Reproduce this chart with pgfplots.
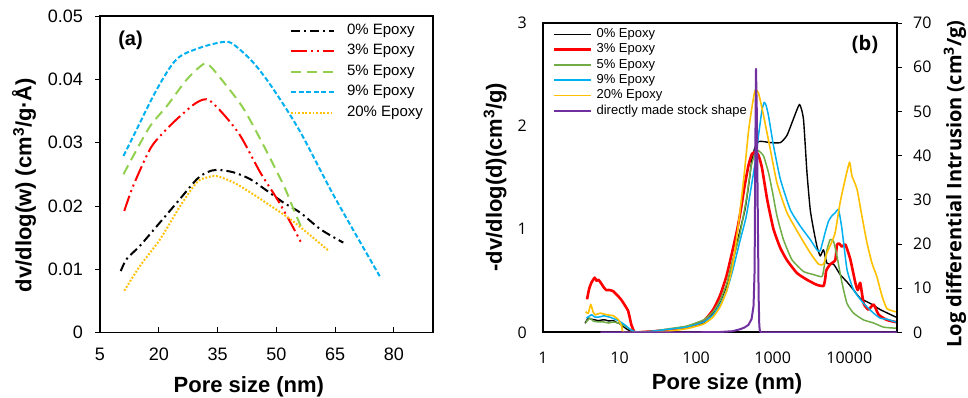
\documentclass[border=0pt]{standalone}
\usepackage{pgfplots}
\pgfplotsset{compat=1.18}
\usepackage{fontspec}
\setmainfont{Liberation Sans}
\newfontfamily\osans{Open Sans}
\definecolor{cRed}{RGB}{255,0,0}
\definecolor{cGreenA}{RGB}{146,208,80}
\definecolor{cGreenB}{RGB}{112,173,71}
\definecolor{cBlue}{RGB}{0,176,240}
\definecolor{cYellow}{RGB}{255,192,0}
\definecolor{cPurple}{RGB}{112,48,160}
\begin{document}
\begin{tikzpicture}
\useasboundingbox (0,0) rectangle (968bp,398bp);
% ---------------- Panel (a) ----------------
\begin{axis}[
  at={(100bp,65.5bp)}, anchor=south west, scale only axis,
  width=333bp, height=316.5bp,
  xmin=5, xmax=90, ymin=0, ymax=0.05,
  scaled y ticks=false, scaled x ticks=false,
  xtick={5,20,35,50,65,80}, xticklabels={5,20,35,50,65,80},
  ytick={0,0.01,0.02,0.03,0.04,0.05}, yticklabels={0,0.01,0.02,0.03,0.04,0.05},
  xtick pos=left, ytick pos=left,
  xtick align=inside, ytick align=outside,
  major tick length=5bp,
  tick style={black, line width=0.8bp},
  axis line style={line width=1.6bp},
  tick label style={font=\fontsize{18bp}{18bp}\selectfont, inner sep=0},
  xticklabel style={anchor=north, yshift=-15.5bp},
  yticklabel style={anchor=east, xshift=-12bp},
  xlabel={Pore size (nm)},
  ylabel={dv/dlog(w) (cm\textsuperscript{3}/g·Å)},
  label style={font=\fontsize{22bp}{22bp}\selectfont\bfseries, inner sep=0},
  xlabel style={at={(axis description cs:0.447,0)}, anchor=north, yshift=-44bp},
  ylabel style={at={(axis description cs:-0.228,0.466)}, anchor=center},
  legend style={at={(axis description cs:0.5706,0.9757)}, anchor=north west,
    draw=none, fill=none, inner sep=0, outer sep=0, row sep=6.5bp, column sep=12bp,
    font=\fontsize{15bp}{15bp}\selectfont,
    nodes={inner sep=0, text height=10.5bp, text depth=3.5bp}},
  legend cell align=left,
  legend image code/.code={\draw[#1] (0bp,0bp) -- (43bp,0bp);},
]
\addplot[black, line width=2bp, dash pattern=on 9bp off 4bp on 2bp off 4bp, smooth, tension=0.5] coordinates {
(10.3,0.0097) (11.8,0.0116) (15.2,0.0137) (19.5,0.0168) (24.6,0.0205) (29.7,0.0242) (32.3,0.0253) (34.8,0.0257) (39.1,0.0253) (43.4,0.0242) (47.6,0.0224) (51.9,0.0205) (56.2,0.0189) (61.3,0.0163) (67.1,0.0142)};
\addlegendentry{0\% Epoxy}
\addplot[cRed, line width=2bp, dash pattern=on 16bp off 4bp on 2bp off 4bp on 2bp off 4bp, smooth, tension=0.5] coordinates {
(11.2,0.0192) (13.5,0.0232) (17.8,0.029) (21.2,0.0316) (24.6,0.0337) (28.9,0.036) (31.4,0.0368) (33.1,0.0366) (36.5,0.0345) (40.8,0.0311) (45.9,0.0253) (50.2,0.0211) (53.6,0.0174) (56.6,0.0139)};
\addlegendentry{3\% Epoxy}
\addplot[cGreenA, line width=2bp, dash pattern=on 10bp off 6bp, smooth, tension=0.5] coordinates {
(11.0,0.025) (13.5,0.0279) (17.8,0.0326) (22.1,0.0358) (27.2,0.04) (31.4,0.0424) (33.1,0.0421) (37.4,0.0389) (41.7,0.0353) (46.8,0.0295) (51.9,0.0232) (54.4,0.0195) (56.6,0.0163)};
\addlegendentry{5\% Epoxy}
\addplot[cBlue, line width=2bp, dash pattern=on 5bp off 2.5bp, smooth, tension=0.5] coordinates {
(11.0,0.0279) (13.5,0.031) (19.5,0.0384) (24.6,0.0432) (30.6,0.045) (36.5,0.0459) (39.1,0.0455) (44.2,0.0426) (49.3,0.0384) (56.2,0.0316) (64.7,0.0216) (76.4,0.0089)};
\addlegendentry{9\% Epoxy}
\addplot[cYellow, line width=2bp, dash pattern=on 1.8bp off 1.8bp, smooth, tension=0.5] coordinates {
(11.2,0.0066) (15.2,0.0105) (20.3,0.0147) (25.5,0.02) (29.7,0.0237) (32.3,0.0245) (34.8,0.0247) (39.1,0.0237) (44.2,0.0218) (49.3,0.0197) (53.6,0.0179) (57.8,0.0158) (63.4,0.0129)};
\addlegendentry{20\% Epoxy}
\node[font=\fontsize{20bp}{20bp}\selectfont\bfseries] at (axis description cs:0.0916,0.924) {(a)};
\end{axis}
% ---------------- Panel (b), left axis ----------------
\begin{axis}[
  at={(543bp,65.7bp)}, anchor=south west, scale only axis,
  width=354bp, height=309.3bp,
  xmode=log, xmin=1, xmax=42000, ymin=0, ymax=3,
  xtick={1,10,100,1000,10000}, xticklabels={1,10,100,1000,10000},
  ytick={0,1,2,3}, yticklabels={0,1,2,3},
  xminorticks=false,
  xtick pos=left, ytick pos=left,
  tick align=inside, major tick length=0pt,
  tick style={draw=none},
  axis line style={line width=1.6bp},
  tick label style={font=\osans\fontsize{16bp}{16bp}\selectfont, inner sep=0},
  xticklabel style={anchor=north, yshift=-19.4bp},
  yticklabel style={anchor=east, xshift=-16bp},
  xlabel={Pore size (nm)},
  ylabel={-dv/dlog(d)(cm\textsuperscript{3}/g)},
  label style={font=\fontsize{22bp}{22bp}\selectfont\bfseries, inner sep=0},
  xlabel style={at={(axis description cs:0.52,0)}, anchor=north, yshift=-41bp},
  ylabel style={at={(axis description cs:-0.1356,0.502)}, anchor=center},
  legend style={at={(axis description cs:0.0282,0.9837)}, anchor=north west,
    draw=none, fill=none, inner sep=0, outer sep=0, row sep=2.8bp, column sep=4bp,
    font=\fontsize{13bp}{13bp}\selectfont,
    nodes={inner sep=0, text height=9.5bp, text depth=3bp}},
  legend cell align=left,
  legend image code/.code={\draw[#1] (0bp,0bp) -- (37bp,0bp);},
]
\addplot[black, line width=1.4bp, line join=round, smooth, tension=0.3] coordinates {
(3.54,0.088) (3.9,0.137) (4.3,0.127) (4.8,0.12) (5.3,0.113) (5.9,0.12) (6.5,0.12) (7.2,0.11) (7.9,0.113) (8.5,0.11) (9.2,0.094) (10,0.085) (11,0.06) (12.5,0.03) (14.5,0.005) (17,0) (22,0.003) (28,0.008) (45,0.02) (75,0.045) (125,0.09) (167,0.19) (206,0.3) (250,0.45) (300,0.68) (372,0.98) (437,1.2) (500,1.5) (535,1.68) (590,1.8) (653,1.85) (759,1.85) (927,1.84) (1260,1.84) (1535,1.91) (1865,2.07) (2240,2.21) (2520,2.07) (2800,1.55) (3090,1.19) (3410,1.0) (3780,0.835) (4170,0.74) (4610,0.80) (5110,0.67) (6240,0.66) (7600,0.56) (9300,0.49) (11400,0.41) (13900,0.33) (18800,0.28) (25400,0.22) (40000,0.15) (42000,0.15)};
\addlegendentry{0\% Epoxy}
\addplot[cRed, line width=2.6bp, line join=round, smooth, tension=0.3] coordinates {
(3.76,0.32) (4.0,0.42) (4.28,0.48) (4.73,0.53) (5.0,0.50) (5.3,0.51) (5.8,0.47) (6.3,0.43) (6.7,0.41) (7.3,0.41) (8.2,0.40) (9.0,0.37) (9.6,0.35) (10.4,0.32) (11.1,0.29) (12.0,0.25) (12.9,0.21) (13.6,0.14) (14.3,0.07) (15.8,0.0) (20,0.003) (28,0.01) (45,0.025) (75,0.05) (125,0.11) (167,0.22) (206,0.36) (250,0.55) (300,0.8) (340,0.98) (376,1.15) (430,1.42) (483,1.62) (535,1.73) (600,1.75) (650,1.72) (722,1.60) (850,1.28) (1024,1.0) (1253,0.82) (1534,0.70) (2070,0.575) (2800,0.51) (3780,0.46) (4610,0.45) (4850,0.52) (5000,0.6) (5640,0.66) (6560,0.70) (6900,0.85) (7400,0.86) (8030,0.83) (8900,0.85) (10300,0.71) (12000,0.48) (12900,0.41) (13900,0.48) (15400,0.28) (17800,0.22) (20800,0.27) (24200,0.17) (31000,0.12) (40000,0.10) (42000,0.10)};
\addlegendentry{3\% Epoxy}
\addplot[cGreenB, line width=1.5bp, line join=round, smooth, tension=0.3] coordinates {
(3.6,0.094) (4.1,0.137) (4.5,0.11) (4.8,0.104) (5.5,0.10) (6.2,0.10) (7.2,0.09) (8.3,0.10) (9.9,0.088) (11,0.07) (12.4,0.05) (15,0.01) (17,0) (22,0.005) (28,0.012) (45,0.035) (75,0.06) (125,0.12) (167,0.2) (206,0.31) (250,0.47) (300,0.7) (372,0.95) (455,1.3) (520,1.6) (580,1.72) (653,1.76) (759,1.71) (880,1.55) (1000,1.35) (1135,1.13) (1380,0.90) (1780,0.705) (2520,0.59) (3410,0.56) (4400,0.54) (4710,0.64) (5110,0.80) (5630,0.90) (6240,0.88) (6900,0.74) (8030,0.48) (9330,0.28) (11400,0.185) (15400,0.12) (20800,0.09) (28000,0.05) (40000,0.04) (42000,0.04)};
\addlegendentry{5\% Epoxy}
\addplot[cBlue, line width=1.5bp, line join=round, smooth, tension=0.3] coordinates {
(3.7,0.137) (4.3,0.17) (4.7,0.15) (5.0,0.146) (5.6,0.15) (6.2,0.16) (7.5,0.146) (8.5,0.13) (9.7,0.113) (11.8,0.07) (13.7,0.03) (15.9,0.005) (18,0) (22,0.004) (28,0.012) (45,0.03) (75,0.05) (125,0.1) (167,0.17) (206,0.27) (250,0.4) (300,0.6) (372,0.88) (450,1.12) (535,1.45) (590,1.65) (650,1.9) (722,2.15) (774,2.23) (820,2.20) (881,2.10) (1024,1.81) (1253,1.49) (1693,1.19) (2290,1.03) (3090,0.90) (3780,0.80) (4170,0.79) (4850,0.97) (5370,1.08) (5940,1.13) (6560,1.16) (7250,1.19) (8030,1.0) (9330,0.61) (11400,0.41) (15400,0.28) (20800,0.185) (25400,0.137) (31000,0.127) (40000,0.10) (42000,0.10)};
\addlegendentry{9\% Epoxy}
\addplot[cYellow, line width=1.6bp, line join=round, smooth, tension=0.3] coordinates {
(3.6,0.2) (3.9,0.185) (4.2,0.27) (4.5,0.2) (4.8,0.17) (5.6,0.185) (6.8,0.17) (8.3,0.16) (9.7,0.12) (10.7,0.055) (11.5,0.0) (30,0.0) (45,0.012) (75,0.035) (125,0.08) (167,0.15) (206,0.25) (250,0.4) (300,0.65) (357,1.05) (420,1.5) (483,1.95) (540,2.2) (590,2.35) (653,2.32) (760,2.10) (927,1.78) (1135,1.45) (1535,1.16) (2290,0.93) (3090,0.77) (3970,0.66) (4610,0.66) (5110,0.77) (5940,0.88) (6560,0.97) (7600,1.26) (8870,1.49) (10100,1.65) (10800,1.52) (12600,1.39) (14600,1.13) (17000,0.87) (19800,0.67) (22900,0.54) (26800,0.35) (31000,0.23) (40000,0.20) (42000,0.20)};
\addlegendentry{20\% Epoxy}
\addlegendimage{cPurple, line width=2bp}
\addlegendentry{directly made stock shape}
\node[font=\osans\fontsize{20bp}{20bp}\selectfont\bfseries] at (axis description cs:0.9096,0.932) {(b)};
\end{axis}
% ---------------- Panel (b), right axis ----------------
\begin{axis}[
  at={(543bp,65.7bp)}, anchor=south west, scale only axis,
  width=354bp, height=309.3bp,
  xmode=log, xmin=1, xmax=42000, ymin=0, ymax=70,
  axis x line=none, axis y line*=right,
  ytick={0,10,20,30,40,50,60,70}, yticklabels={0,10,20,30,40,50,60,70},
  ytick align=outside, major tick length=5bp,
  tick style={black, line width=0.8bp},
  axis line style={line width=1.6bp},
  tick label style={font=\osans\fontsize{16bp}{16bp}\selectfont, inner sep=0},
  yticklabel style={anchor=west, xshift=11bp},
  ylabel={Log differential Intrusion (cm\textsuperscript{3}/g)},
  label style={font=\osans\fontsize{20bp}{20bp}\selectfont\bfseries, inner sep=0},
  ylabel style={at={(axis description cs:1.1638,0.4795)}, anchor=center},
]
\addplot[cPurple, line width=2bp, line join=round] coordinates {
(5.6,0) (100,0) (200,0.05) (300,0.25) (376,0.7) (430,1.1) (483,1.7) (530,3.0) (562,6) (580,14) (595,45) (605,59.6) (620,50) (640,25) (655,8) (668,1.5) (680,0.3) (700,0) (42000,0)};
\end{axis}
\end{tikzpicture}
\end{document}
